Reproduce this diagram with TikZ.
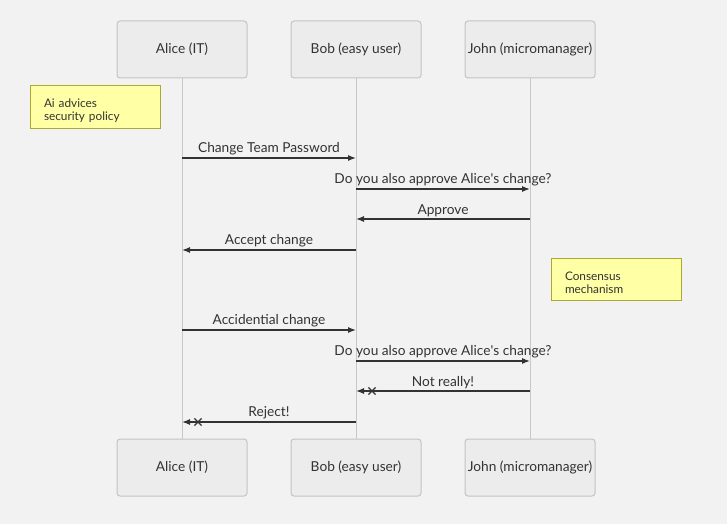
\documentclass[tikz,border=0pt]{standalone}
\usepackage{fontspec}
\setmainfont{Lato}
\usetikzlibrary{arrows.meta,shapes.misc}
\definecolor{bg}{HTML}{F2F2F2}
\definecolor{actorfill}{HTML}{ECECEC}
\definecolor{actorline}{HTML}{C4C4C4}
\definecolor{lifeline}{HTML}{C8C8C8}
\definecolor{msgline}{HTML}{333333}
\definecolor{txt}{HTML}{333333}
\definecolor{notefill}{HTML}{FFFFA6}
\definecolor{noteline}{HTML}{AAAA33}
\tikzset{
  actor/.style={draw=actorline, fill=actorfill, rounded corners=3pt, line width=1pt,
    minimum width=130pt, minimum height=57pt, inner sep=0pt,
    font=\fontsize{13.7}{16}\selectfont, text=txt},
  note/.style={draw=noteline, fill=notefill, line width=1pt, minimum width=130pt,
    minimum height=42pt, inner sep=0pt},
  notetext/.style={inner sep=0pt, text width=102pt, align=left,
    font=\fontsize{11.8}{12.8}\selectfont, text=txt},
  msg/.style={draw=msgline, line width=1.2pt, -{Latex[length=8pt,width=6pt]}},
  lbl/.style={above=2pt, inner sep=0pt, font=\fontsize{13.7}{16}\selectfont, text=txt},
  crossmark/.style={cross out, draw=msgline, line width=1.2pt, minimum size=6pt, inner sep=0pt}
}
\begin{document}
\begin{tikzpicture}[x=1pt, y=-1pt]
\fill[bg] (0,0) rectangle (727,524);
\useasboundingbox (0,0) rectangle (727,524);

% participants
\node[actor] (aliceT) at (182,49.5) {Alice (IT)};
\node[actor] (bobT) at (356,49.5) {Bob (easy user)};
\node[actor] (johnT) at (530,49.5) {John (micromanager)};
\node[actor] (aliceB) at (182,467.5) {Alice (IT)};
\node[actor] (bobB) at (356,467.5) {Bob (easy user)};
\node[actor] (johnB) at (530,467.5) {John (micromanager)};

% lifelines
\draw[lifeline, line width=1pt] (aliceT) -- (aliceB);
\draw[lifeline, line width=1pt] (bobT) -- (bobB);
\draw[lifeline, line width=1pt] (johnT) -- (johnB);

% notes
\node[note] (n1) at (95,107) {};
\node[notetext] (n1t) at ([yshift=-3.5pt]n1.center) {Ai advices\\security policy};
\node[note] (n2) at (616,279.5) {};
\node[notetext] (n2t) at ([yshift=-3.5pt]n2.center) {Consensus\\mechanism};

% message rows
\foreach \n/\y in {1/158,2/189,3/219,4/250,5/330,6/361,7/391,8/422}{
  \coordinate (a\n) at (aliceT.south |- 0,\y);
  \coordinate (b\n) at (bobT.south |- 0,\y);
  \coordinate (j\n) at (johnT.south |- 0,\y);
}

\draw[msg] (a1) -- node[lbl] {Change Team Password} (b1);
\draw[msg] (b2) -- node[lbl] {Do you also approve Alice\textquotesingle s change?} (j2);
\draw[msg] (j3) -- node[lbl] {Approve} (b3);
\draw[msg] (b4) -- node[lbl] {Accept change} (a4);
\draw[msg] (a5) -- node[lbl] {Accidential change} (b5);
\draw[msg] (b6) -- node[lbl] {Do you also approve Alice\textquotesingle s change?} (j6);
\draw[msg] (j7) -- node[lbl] {Not really!} (b7);
\node[crossmark] (x7) at ([xshift=16pt]b7) {};
\draw[msg] (b8) -- node[lbl] {Reject!} (a8);
\node[crossmark] (x8) at ([xshift=16pt]a8) {};
\end{tikzpicture}
\end{document}
